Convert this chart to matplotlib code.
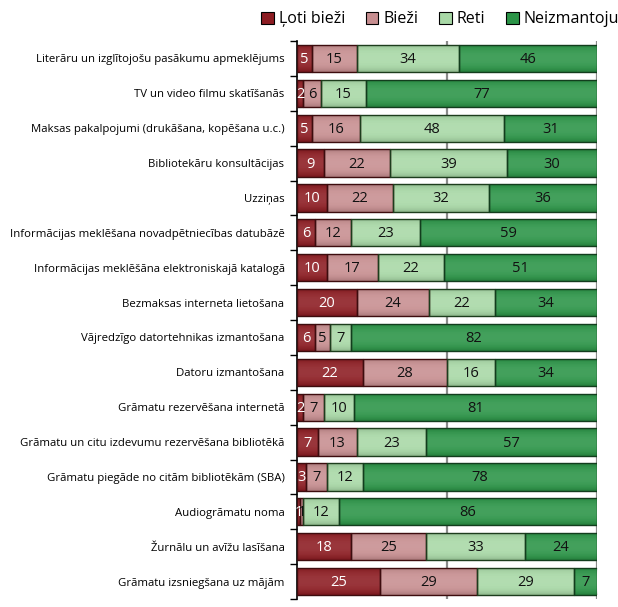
import matplotlib
matplotlib.use("Agg")
import matplotlib.pyplot as plt
import numpy as np
from matplotlib.patches import Patch

plt.rcParams['font.family'] = ['Open Sans', 'DejaVu Sans']

categories = [
    "Literāru un izglītojošu pasākumu apmeklējums",
    "TV un video filmu skatīšanās",
    "Maksas pakalpojumi (drukāšana, kopēšana u.c.)",
    "Bibliotekāru konsultācijas",
    "Uzziņas",
    "Informācijas meklēšana novadpētniecības datubāzē",
    "Informācijas meklēšāna elektroniskajā katalogā",
    "Bezmaksas interneta lietošana",
    "Vājredzīgo datortehnikas izmantošana",
    "Datoru izmantošana",
    "Grāmatu rezervēšana internetā",
    "Grāmatu un citu izdevumu rezervēšana bibliotēkā",
    "Grāmatu piegāde no citām bibliotēkām (SBA)",
    "Audiogrāmatu noma",
    "Žurnālu un avīžu lasīšana",
    "Grāmatu izsniegšana uz mājām",
]
series_names = ["Ļoti bieži", "Bieži", "Reti", "Neizmantoju"]
loti_biezi = [5, 2, 5, 9, 10, 6, 10, 20, 6, 22, 2, 7, 3, 1, 18, 25]
biezi = [15, 6, 16, 22, 22, 12, 17, 24, 5, 28, 7, 13, 7, 1, 25, 29]
reti = [34, 15, 48, 39, 32, 23, 22, 22, 7, 16, 10, 23, 12, 12, 33, 29]
neizmantoju = [46, 77, 31, 30, 36, 59, 51, 34, 82, 34, 81, 57, 78, 86, 24, 7]

colors = ["#8c1c22", "#c78e90", "#a8d8a6", "#2b9447"]
edge_colors = ["#3d0c0e", "#3d0c0e", "#1d3d1d", "#123d1d"]
text_colors = ["white", "#111111", "#111111", "#111111"]

fig = plt.figure(figsize=(6.18, 6.07), dpi=100)
ax = fig.add_axes([297/618, 1-599/607, 300/618, 558/607])

y = np.arange(len(categories))
h = 0.78
data = np.array([loti_biezi, biezi, reti, neizmantoju], dtype=float)
totals = data.sum(axis=0)
left = np.zeros(len(categories))

# gradient overlay (lighter middle, darker edges)
t = np.linspace(-1, 1, 64)
grad = np.zeros((64, 2, 4))
grad[..., 0:3] = 1.0
grad[..., 3] = (0.12 * (1 - t**2))[:, None]
dark = np.zeros((64, 2, 4))
dark[..., 3] = (0.15 * t**4)[:, None]

for vals, c, ec, tc in zip(data, colors, edge_colors, text_colors):
    pct = vals / totals * 100
    bars = ax.barh(y, pct, left=left, height=h, color=c, edgecolor='none', zorder=2)
    for b in bars:
        x0, y0 = b.get_x(), b.get_y()
        w, hh = b.get_width(), b.get_height()
        for g in (grad, dark):
            im = ax.imshow(g, extent=(x0, x0 + w, y0 + hh, y0), aspect='auto',
                           interpolation='bilinear', zorder=2.5)
            im.set_clip_path(b)
    ax.barh(y, pct, left=left, height=h, fill=False, edgecolor=ec, linewidth=1.0, zorder=3)
    for yi, (l, p, v) in enumerate(zip(left, pct, vals)):
        ax.text(l + p / 2, yi + 0.03, f"{int(v)}", ha='center', va='center',
                color=tc, fontsize=10.5, zorder=4, clip_on=False)
    left += pct

ax.set_xlim(0, 100)
ax.set_ylim(len(categories) - 0.5, -0.5)
ax.set_yticks(y)
ax.set_yticklabels(categories, fontsize=8.2)
ax.tick_params(axis='y', which='major', length=0, pad=9)
ax.set_yticks(np.arange(-0.5, len(categories), 1), minor=True)
ax.tick_params(axis='y', which='minor', length=5, width=1, color='black', direction='out')
ax.set_xticks([50, 100])
ax.set_xticklabels([])
ax.tick_params(axis='x', length=0)
ax.grid(axis='x', color='#8a8a8a', linewidth=1.6, zorder=0)
ax.set_axisbelow(True)
for s in ['top', 'right', 'bottom']:
    ax.spines[s].set_visible(False)
ax.spines['left'].set_linewidth(1.2)

handles = [Patch(facecolor=c, edgecolor='black', linewidth=0.8) for c in colors]
fig.legend(handles, series_names, loc='upper right', bbox_to_anchor=(1.025, 1.005), ncol=4,
           frameon=False, fontsize=11.5, handlelength=0.8, handleheight=0.8,
           handletextpad=0.3, columnspacing=1.3)

fig.savefig("out.png", dpi=100)
